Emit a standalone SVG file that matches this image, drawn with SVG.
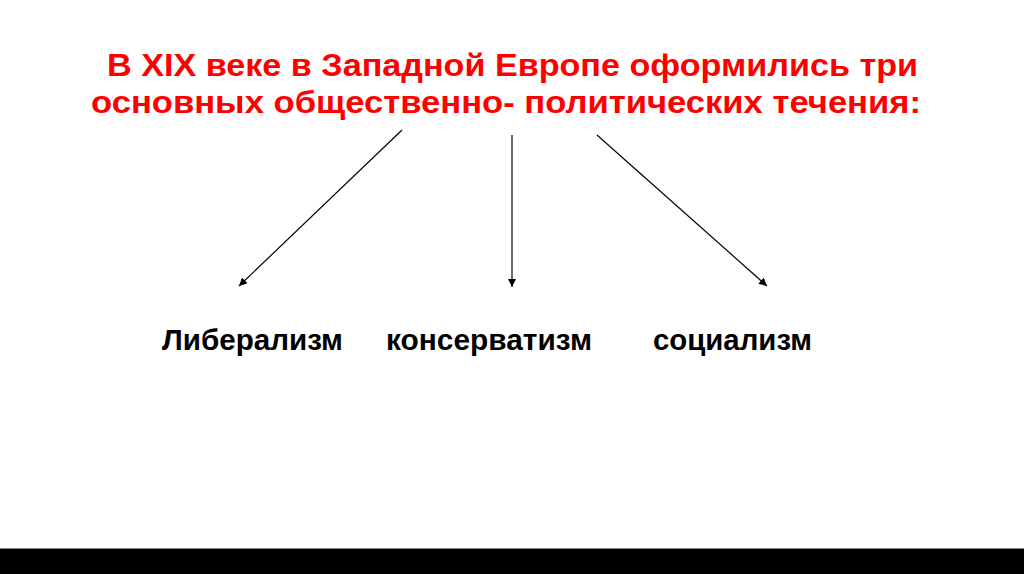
<svg xmlns="http://www.w3.org/2000/svg" width="1024" height="574" viewBox="0 0 1024 574">
<defs>
<style>
.title{font-family:"Liberation Sans",Arial,sans-serif;font-weight:bold;font-size:31px;fill:#FF0000}
.label{font-family:"Liberation Sans",Arial,sans-serif;font-weight:bold;font-size:29px;fill:#000}
.conn{stroke:#000;stroke-width:1.2;fill:none;marker-end:url(#arr)}
</style>
<marker id="arr" viewBox="0 0 10 10" refX="10" refY="5" markerWidth="8" markerHeight="8" markerUnits="userSpaceOnUse" orient="auto">
<path d="M0,0 L10,5 L0,10 z" fill="#000"/>
</marker>
</defs>
<rect x="0" y="0" width="1024" height="574" fill="#FFFFFF"/>
<g id="title">
<text class="title" x="107" y="76" textLength="811" lengthAdjust="spacingAndGlyphs">В XIX веке в Западной Европе оформились три</text>
<text class="title" x="91" y="113" textLength="830" lengthAdjust="spacingAndGlyphs">основных общественно- политических течения:</text>
</g>
<g id="connectors">
<line class="conn" x1="402" y1="130" x2="239" y2="286"/>
<line class="conn" x1="512" y1="135" x2="512" y2="287"/>
<line class="conn" x1="597" y1="135" x2="767" y2="286"/>
</g>
<g id="node-liberalism">
<text class="label" x="162" y="350" textLength="181" lengthAdjust="spacingAndGlyphs">Либерализм</text>
</g>
<g id="node-conservatism">
<text class="label" x="386" y="350" textLength="206" lengthAdjust="spacingAndGlyphs">консерватизм</text>
</g>
<g id="node-socialism">
<text class="label" x="653" y="350" textLength="159" lengthAdjust="spacingAndGlyphs">социализм</text>
</g>
<rect x="0" y="548" width="1024" height="1" fill="#888"/>
<rect x="0" y="549" width="1024" height="25" fill="#000"/>
</svg>
